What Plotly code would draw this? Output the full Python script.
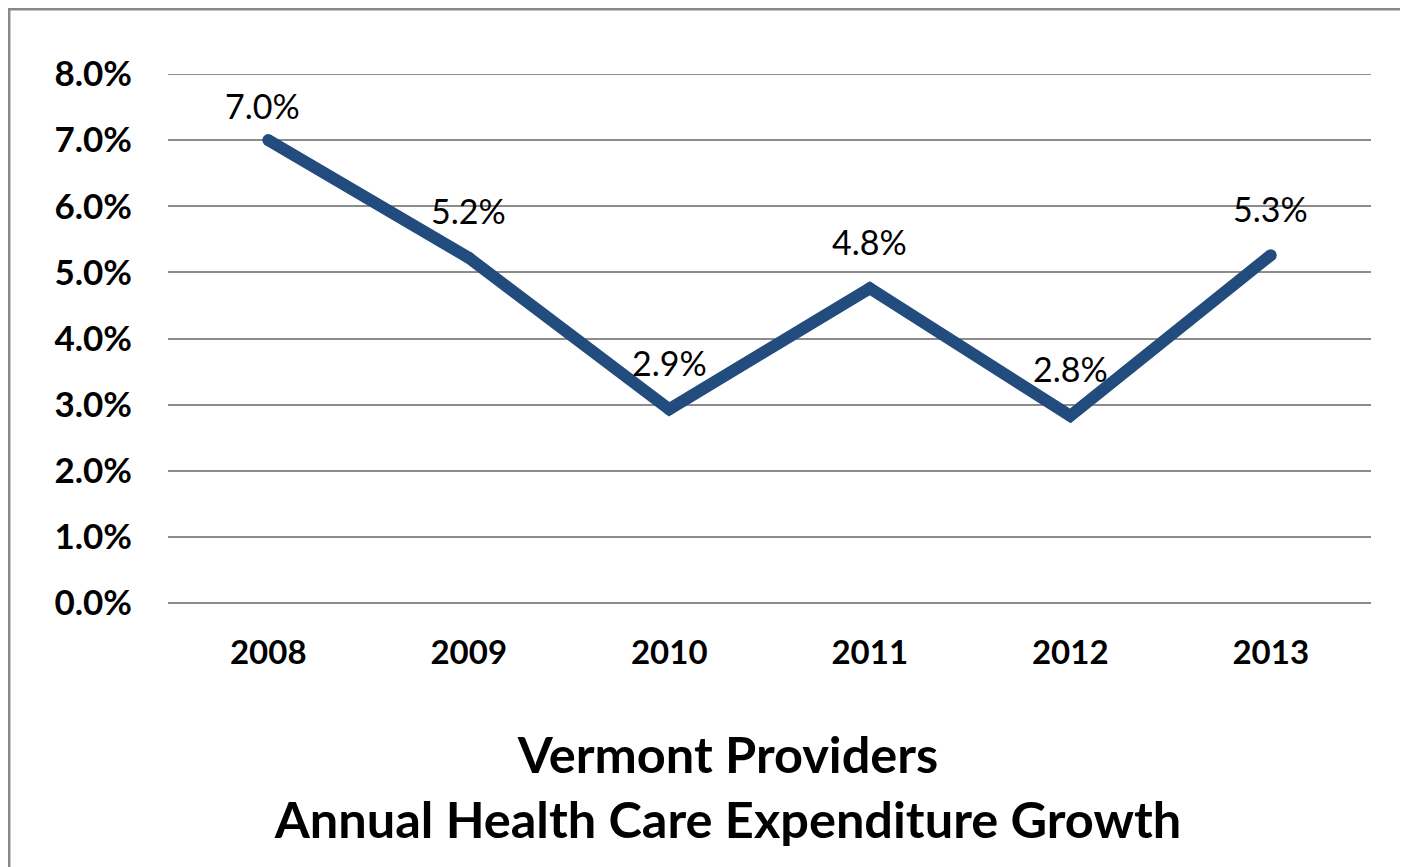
import plotly.graph_objects as go

# Vermont provider spending growth, by year
years = ["2008", "2009", "2010", "2011", "2012", "2013"]
growth = [0.0700, 0.0522, 0.0293, 0.0476, 0.0283, 0.0526]
y_ticks = [0.00, 0.01, 0.02, 0.03, 0.04, 0.05, 0.06, 0.07, 0.08]

LINE_BLUE = "#234c7e"
GRID = "#8c8c8c"
FONT = "Lato"

fig = go.Figure()

fig.add_trace(go.Scatter(
    x=years,
    y=growth,
    mode="lines+markers",
    line=dict(color=LINE_BLUE, width=12),
    marker=dict(color=LINE_BLUE, size=12),
    hoverinfo="skip",
    showlegend=False,
))

# data labels sit above each point (index = category position)
for i, val in enumerate(growth):
    fig.add_annotation(
        x=i, y=val, xref="x", yref="y",
        text=f"{val * 100:.1f}%",
        showarrow=False,
        xshift=-6 if i == 0 else 0,
        yshift=35 if i == 0 else 47,
        font=dict(family=FONT, size=34, color="black"),
    )

# plotly drops the gridline sitting on the top edge, so draw it by hand
fig.add_shape(
    type="line", xref="paper", yref="y",
    x0=0, x1=1, y0=y_ticks[-1], y1=y_ticks[-1],
    line=dict(color=GRID, width=2),
    layer="below",
)

# outer chart frame (runs off the right and bottom of the picture)
fig.add_shape(
    type="rect", xref="paper", yref="paper",
    x0=-0.132, x1=1.2, y0=-0.7, y1=1.1225,
    line=dict(color="#898989", width=2.5),
    fillcolor="rgba(0,0,0,0)",
)

fig.update_layout(
    width=1400,
    height=859,
    autosize=False,
    margin=dict(l=160, r=37, t=66, b=264),
    paper_bgcolor="white",
    plot_bgcolor="white",
    font=dict(family=FONT, color="black"),
    title=dict(
        text="<b>Vermont Providers<br>Annual Health Care Expenditure Growth</b>",
        x=0.4655, xref="paper", xanchor="center",
        y=0.110, yref="container", yanchor="middle",
        font=dict(family=FONT, size=50.5, color="black"),
    ),
    xaxis=dict(
        type="category",
        range=[-0.5, 5.5],
        showgrid=False,
        showline=False,
        zeroline=False,
        ticks="outside",
        ticklen=20,
        tickcolor="rgba(0,0,0,0)",
        tickfont=dict(family=FONT, size=33, color="black", weight="bold"),
    ),
    yaxis=dict(
        range=[0, 0.08],
        tickvals=y_ticks,
        tickformat=".1%",
        showgrid=True,
        gridcolor=GRID,
        gridwidth=2,
        zeroline=True,
        zerolinecolor=GRID,
        zerolinewidth=2,
        showline=False,
        ticks="outside",
        ticklen=28,
        tickcolor="rgba(0,0,0,0)",
        tickfont=dict(family=FONT, size=35, color="black", weight="bold"),
    ),
)

fig.write_html("out.html")
